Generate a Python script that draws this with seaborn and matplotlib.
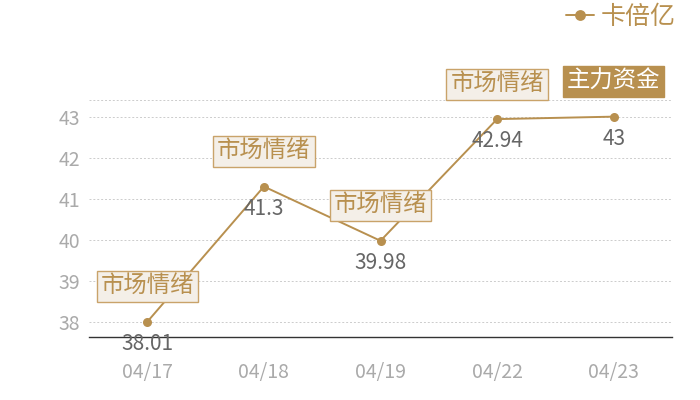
import pandas as pd
import matplotlib
matplotlib.use("Agg")
import matplotlib.pyplot as plt
import seaborn as sns

# ---- data ----
dates = ['04/17', '04/18', '04/19', '04/22', '04/23']
values = [38.01, 41.3, 39.98, 42.94, 43]
tags = ['市场情绪', '市场情绪', '市场情绪', '市场情绪', '主力资金']
series_name = '卡倍亿'

gold = '#B8904F'
tick_grey = '#AAAAAA'

sns.set_theme(style='white')
plt.rcParams['font.family'] = ['Noto Sans CJK SC', 'DejaVu Sans']

df = pd.DataFrame({'date': dates, 'value': values})

fig = plt.figure(figsize=(7, 4), dpi=100)
ax = fig.add_axes([89 / 700, 1 - 337 / 400, (672 - 89) / 700, (337 - 100) / 400])

sns.lineplot(data=df, x='date', y='value', ax=ax, color=gold, lw=1.4,
             marker='o', markersize=6.5, markeredgewidth=0, label=series_name,
             sort=False)

ax.set_xlim(-0.5, len(dates) - 0.5)
ax.set_ylim(37.64, 43.405)
ax.set_yticks([38, 39, 40, 41, 42, 43])
ax.set_xlabel('')
ax.set_ylabel('')

# grid
for y in ax.get_yticks():
    ax.axhline(y, color='#CCCCCC', lw=0.7, ls=(0, (2, 2)), zorder=0)
ax.axhline(ax.get_ylim()[1], color='#CCCCCC', lw=0.7, ls=(0, (2, 2)), zorder=0)

for s in ['top', 'right', 'left']:
    ax.spines[s].set_visible(False)
ax.spines['bottom'].set_color('#333333')
ax.spines['bottom'].set_linewidth(1)

ax.tick_params(axis='y', length=0, pad=6.5, labelsize=14, labelcolor=tick_grey)
ax.tick_params(axis='x', length=0, pad=18, labelsize=14, labelcolor=tick_grey)

# value labels and tag boxes
for i, (v, t) in enumerate(zip(values, tags)):
    ax.annotate(f'{v:g}', (i, v), xytext=(0, -22), textcoords='offset pixels',
                ha='center', va='center', fontsize=15, color='#666666')
    if t == '主力资金':
        box = dict(boxstyle='square,pad=0.17', fc=gold, ec=gold, lw=1)
        tc = 'white'
    else:
        box = dict(boxstyle='square,pad=0.17', fc='#F4EFE8', ec='#C9A36A', lw=1)
        tc = gold
    ax.annotate(t, (i, v), xytext=(0, 35), textcoords='offset pixels',
                ha='center', va='center', fontsize=16.8, color=tc, bbox=box,
                zorder=5)

ax.legend_.remove()
handles, labels = ax.get_legend_handles_labels()
leg = fig.legend(handles, labels, loc='center right',
                 bbox_to_anchor=(676 / 700, 1 - 17 / 400), frameon=False,
                 fontsize=18, handlelength=1.1, handletextpad=0.3,
                 borderpad=0, borderaxespad=0, markerscale=1.2)
for txt in leg.get_texts():
    txt.set_color(gold)

fig.savefig('out.png', dpi=100)
